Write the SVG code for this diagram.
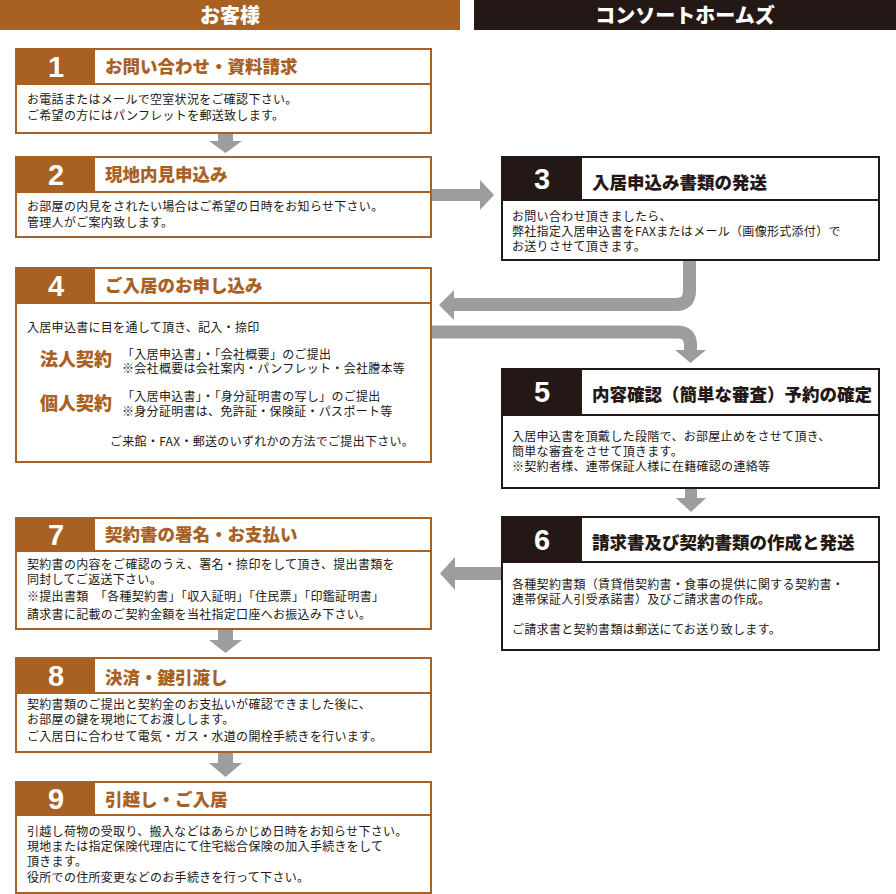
<svg xmlns="http://www.w3.org/2000/svg" width="896" height="894" viewBox="0 0 896 894">
<style>
.hb{fill:#a86123}
.hd{fill:#231815}
.ht{font-family:"Noto Sans CJK JP","Noto Sans",sans-serif;font-weight:900;font-size:20px;fill:#fff;text-anchor:middle}
.bb{fill:#fff;stroke:#a86123;stroke-width:2}
.bd{fill:#fff;stroke:#231815;stroke-width:2}
.lb{stroke:#a86123;stroke-width:2}
.ld{stroke:#231815;stroke-width:2}
.num{font-family:"Liberation Sans",Arial,sans-serif;font-weight:700;font-size:29px;fill:#fff;text-anchor:middle}
.tb{font-family:"Noto Sans CJK JP",sans-serif;font-weight:900;font-size:17.5px;fill:#a86123}
.td{font-family:"Noto Sans CJK JP",sans-serif;font-weight:900;font-size:17.5px;fill:#231815}
.tx{font-family:"Noto Sans CJK JP",sans-serif;font-size:12px;letter-spacing:0.3px;fill:#231815}
.tk{font-family:"Noto Sans CJK JP",sans-serif;font-weight:900;font-size:18px;fill:#a86123}
.ar{fill:#9d9d9d}
.as{fill:none;stroke:#9d9d9d;stroke-width:13}
</style>

<g id="header-customer">
<rect class="hb" x="0" y="0" width="460" height="30"/>
<text class="ht" x="230" y="23">お客様</text>
</g>
<g id="header-company">
<rect class="hd" x="474" y="0" width="422" height="30"/>
<text class="ht" x="685" y="23">コンソートホームズ</text>
</g>

<g id="connectors">
<rect class="ar" x="218" y="133" width="15" height="9"/>
<polygon class="ar" points="209,141 242,141 225.5,153"/>
<rect class="ar" x="432" y="189" width="50" height="12"/>
<polygon class="ar" points="480,180 480,210 494,195"/>
<path class="as" d="M689.5,260 V291 Q689.5,304.5 676,304.5 H450"/>
<polygon class="ar" points="454,290 454,320 439,305"/>
<path class="as" d="M431,332 H677 Q690.5,332 690.5,345 V352"/>
<polygon class="ar" points="675,350 706,350 690.5,363"/>
<rect class="ar" x="685" y="488" width="12" height="11"/>
<polygon class="ar" points="676,498 706,498 691,512"/>
<rect class="ar" x="452" y="567" width="50" height="13"/>
<polygon class="ar" points="455,557 455,590 440,573.5"/>
<rect class="ar" x="218" y="629" width="15" height="12"/>
<polygon class="ar" points="209,640 242,640 225.5,653"/>
<rect class="ar" x="218" y="752" width="15" height="12"/>
<polygon class="ar" points="209,763 242,763 225.5,777"/>
</g>

<g id="step1">
<rect class="bb" x="16" y="49" width="415" height="84"/>
<rect class="hb" x="16" y="49" width="79" height="35"/>
<line class="lb" x1="16" y1="84" x2="431" y2="84"/>
<text class="num" x="56" y="77">1</text>
<text class="tb" x="105" y="73">お問い合わせ・資料請求</text>
<text class="tx" x="27" y="104">お電話またはメールで空室状況をご確認下さい。<tspan x="27" dy="16">ご希望の方にはパンフレットを郵送致します。</tspan></text>
</g>

<g id="step2">
<rect class="bb" x="16" y="157" width="415" height="80"/>
<rect class="hb" x="16" y="157" width="79" height="35"/>
<line class="lb" x1="16" y1="192" x2="431" y2="192"/>
<text class="num" x="56" y="185">2</text>
<text class="tb" x="105" y="181">現地内見申込み</text>
<text class="tx" x="27" y="211">お部屋の内見をされたい場合はご希望の日時をお知らせ下さい。<tspan x="27" dy="16">管理人がご案内致します。</tspan></text>
</g>

<g id="step3">
<rect class="bd" x="502" y="157" width="377" height="103"/>
<rect class="hd" x="502" y="157" width="80" height="43"/>
<line class="ld" x1="502" y1="200" x2="879" y2="200"/>
<text class="num" x="542" y="189">3</text>
<text class="td" x="592" y="189">入居申込み書類の発送</text>
<text class="tx" x="512" y="221">お問い合わせ頂きましたら、<tspan x="512" dy="15">弊社指定入居申込書をFAXまたはメール（画像形式添付）で</tspan><tspan x="512" dy="15">お送りさせて頂きます。</tspan></text>
</g>

<g id="step4">
<rect class="bb" x="16" y="268" width="415" height="194"/>
<rect class="hb" x="16" y="268" width="79" height="35"/>
<line class="lb" x1="16" y1="303" x2="431" y2="303"/>
<text class="num" x="56" y="296">4</text>
<text class="tb" x="105" y="292">ご入居のお申し込み</text>
<text class="tx" x="27" y="332">入居申込書に目を通して頂き、記入・捺印</text>
<text class="tk" x="40" y="366">法人契約</text>
<text class="tx" x="122" y="359">「入居申込書」・「会社概要」のご提出<tspan x="122" dy="14">※会社概要は会社案内・パンフレット・会社謄本等</tspan></text>
<text class="tk" x="40" y="410">個人契約</text>
<text class="tx" x="122" y="401">「入居申込書」・「身分証明書の写し」のご提出<tspan x="122" dy="15">※身分証明書は、免許証・保険証・パスポート等</tspan></text>
<text class="tx" x="110" y="446">ご来館・FAX・郵送のいずれかの方法でご提出下さい。</text>
</g>

<g id="step5">
<rect class="bd" x="502" y="369" width="377" height="119"/>
<rect class="hd" x="502" y="369" width="80" height="46"/>
<line class="ld" x1="502" y1="415" x2="879" y2="415"/>
<text class="num" x="542" y="402">5</text>
<text class="td" x="592" y="401">内容確認（簡単な審査）予約の確定</text>
<text class="tx" x="512" y="441">入居申込書を頂戴した段階で、お部屋止めをさせて頂き、<tspan x="512" dy="15">簡単な審査をさせて頂きます。</tspan><tspan x="512" dy="15">※契約者様、連帯保証人様に在籍確認の連絡等</tspan></text>
</g>

<g id="step6">
<rect class="bd" x="502" y="517" width="377" height="133"/>
<rect class="hd" x="502" y="517" width="80" height="45"/>
<line class="ld" x1="502" y1="562" x2="879" y2="562"/>
<text class="num" x="542" y="550">6</text>
<text class="td" x="592" y="549">請求書及び契約書類の作成と発送</text>
<text class="tx" x="512" y="589">各種契約書類（賃貸借契約書・食事の提供に関する契約書・<tspan x="512" dy="15">連帯保証人引受承諾書）及びご請求書の作成。</tspan><tspan x="512" dy="30">ご請求書と契約書類は郵送にてお送り致します。</tspan></text>
</g>

<g id="step7">
<rect class="bb" x="16" y="518" width="415" height="111"/>
<rect class="hb" x="16" y="518" width="79" height="33"/>
<line class="lb" x1="16" y1="551" x2="431" y2="551"/>
<text class="num" x="56" y="545">7</text>
<text class="tb" x="105" y="541">契約書の署名・お支払い</text>
<text class="tx" x="27" y="569">契約書の内容をご確認のうえ、署名・捺印をして頂き、提出書類を<tspan x="27" dy="15">同封してご返送下さい。</tspan><tspan x="27" dy="17">※提出書類　「各種契約書」「収入証明」「住民票」「印鑑証明書」</tspan><tspan x="27" dy="18">請求書に記載のご契約金額を当社指定口座へお振込み下さい。</tspan></text>
</g>

<g id="step8">
<rect class="bb" x="16" y="658" width="415" height="94"/>
<rect class="hb" x="16" y="658" width="79" height="35"/>
<line class="lb" x1="16" y1="693" x2="431" y2="693"/>
<text class="num" x="56" y="686">8</text>
<text class="tb" x="105" y="684">決済・鍵引渡し</text>
<text class="tx" x="27" y="709">契約書類のご提出と契約金のお支払いが確認できました後に、<tspan x="27" dy="15">お部屋の鍵を現地にてお渡しします。</tspan><tspan x="27" dy="17">ご入居日に合わせて電気・ガス・水道の開栓手続きを行います。</tspan></text>
</g>

<g id="step9">
<rect class="bb" x="16" y="782" width="415" height="111"/>
<rect class="hb" x="16" y="782" width="79" height="33"/>
<line class="lb" x1="16" y1="815" x2="431" y2="815"/>
<text class="num" x="56" y="809">9</text>
<text class="tb" x="105" y="806">引越し・ご入居</text>
<text class="tx" x="27" y="836">引越し荷物の受取り、搬入などはあらかじめ日時をお知らせ下さい。<tspan x="27" dy="15">現地または指定保険代理店にて住宅総合保険の加入手続きをして</tspan><tspan x="27" dy="15">頂きます。</tspan><tspan x="27" dy="16">役所での住所変更などのお手続きを行って下さい。</tspan></text>
</g>
</svg>
